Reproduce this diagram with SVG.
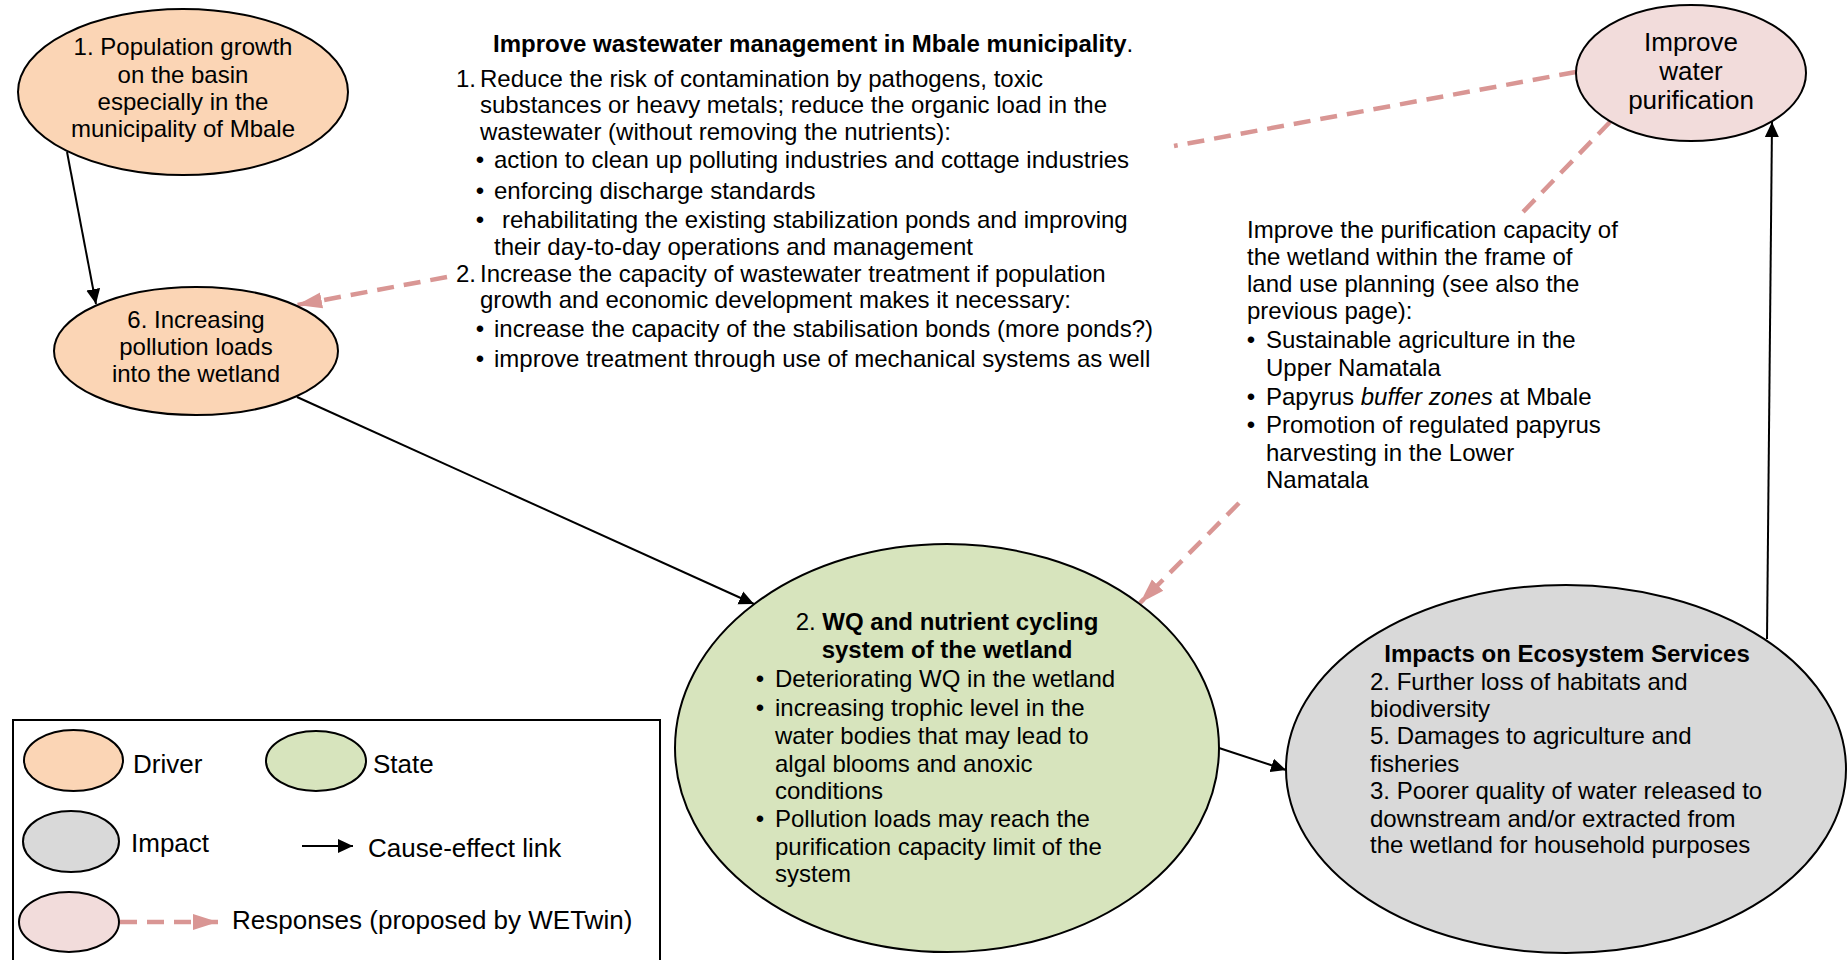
<svg xmlns="http://www.w3.org/2000/svg" width="1847" height="960" viewBox="0 0 1847 960">
<style>
text{font-family:"Liberation Sans",Arial,sans-serif;font-size:24px;fill:#000}
.b{font-weight:bold}
.n{font-weight:normal}
.c{text-anchor:middle}
.l26{font-size:26px}
.node{stroke:#000;stroke-width:2}
.drv{fill:#FBD5B5}
.sta{fill:#D7E4BD}
.imp{fill:#D9D9D9}
.rsp{fill:#F2DCDB}
.link{fill:none;stroke:#000;stroke-width:2}
.resp{fill:none;stroke:#D99694;stroke-width:4.5;stroke-dasharray:17 10}
</style>
<defs>
<marker id="ah" markerUnits="userSpaceOnUse" markerWidth="16" markerHeight="16" viewBox="0 0 16 16" refX="15" refY="8" orient="auto">
<path d="M0,1 L15,8 L0,15 z" fill="#000"/>
</marker>
<marker id="ahp" markerUnits="userSpaceOnUse" markerWidth="26" markerHeight="20" viewBox="0 0 26 20" refX="25" refY="10" orient="auto">
<path d="M0,2 L25,10 L0,18 z" fill="#D99694"/>
</marker>
</defs>
<rect width="1847" height="960" fill="#fff"/>

<g id="connectors">
<path class="link" d="M67,152 L96,304" marker-end="url(#ah)"/>
<path class="link" d="M297,397 L754,604" marker-end="url(#ah)"/>
<path class="link" d="M1219,748 L1286,770" marker-end="url(#ah)"/>
<path class="link" d="M1767,639 L1772,122" marker-end="url(#ah)"/>
<path class="resp" d="M1576,72 L1174,146"/>
<path class="resp" d="M447,277 L297,305" marker-end="url(#ahp)"/>
<path class="resp" d="M1610,122 L1522,213"/>
<path class="resp" d="M1239,503 L1140,603" marker-end="url(#ahp)"/>
</g>

<g id="node-population">
<ellipse class="node drv" cx="183" cy="92" rx="165" ry="83"/>
<text class="c" x="183" y="55">1. Population growth</text>
<text class="c" x="183" y="83">on the basin</text>
<text class="c" x="183" y="110">especially in the</text>
<text class="c" x="183" y="137">municipality of Mbale</text>
</g>

<g id="node-pollution">
<ellipse class="node drv" cx="196" cy="351" rx="142" ry="64"/>
<text class="c" x="196" y="328">6. Increasing</text>
<text class="c" x="196" y="355">pollution loads</text>
<text class="c" x="196" y="382">into the wetland</text>
</g>

<g id="node-purification">
<ellipse class="node rsp" cx="1691" cy="73" rx="115" ry="68"/>
<text class="c l26" x="1691" y="51">Improve</text>
<text class="c l26" x="1691" y="80">water</text>
<text class="c l26" x="1691" y="109">purification</text>
</g>

<g id="node-state">
<ellipse class="node sta" cx="947" cy="748" rx="272" ry="204"/>
<text class="c" x="947" y="630">2. <tspan class="b">WQ and nutrient cycling</tspan></text>
<text class="c b" x="947" y="658">system of the wetland</text>
<text class="c" x="760" y="687">•</text>
<text x="775" y="687">Deteriorating WQ in the wetland</text>
<text class="c" x="760" y="716">•</text>
<text x="775" y="716">increasing trophic level in the</text>
<text x="775" y="744">water bodies that may lead to</text>
<text x="775" y="772">algal blooms and anoxic</text>
<text x="775" y="799">conditions</text>
<text class="c" x="760" y="827">•</text>
<text x="775" y="827">Pollution loads may reach the</text>
<text x="775" y="855">purification capacity limit of the</text>
<text x="775" y="882">system</text>
</g>

<g id="node-impacts">
<ellipse class="node imp" cx="1566" cy="769" rx="280" ry="184"/>
<text class="c b" x="1567" y="662">Impacts on Ecosystem Services</text>
<text x="1370" y="690">2. Further loss of habitats and</text>
<text x="1370" y="717">biodiversity</text>
<text x="1370" y="744">5. Damages to agriculture and</text>
<text x="1370" y="772">fisheries</text>
<text x="1370" y="799">3. Poorer quality of water released to</text>
<text x="1370" y="827">downstream and/or extracted from</text>
<text x="1370" y="853">the wetland for household purposes</text>
</g>

<g id="text-wastewater">
<text class="b" x="493" y="52">Improve wastewater management in Mbale municipality<tspan class="n">.</tspan></text>
<text x="456" y="87">1.</text>
<text x="480" y="87">Reduce the risk of contamination by pathogens, toxic</text>
<text x="480" y="113">substances or heavy metals; reduce the organic load in the</text>
<text x="480" y="140">wastewater (without removing the nutrients):</text>
<text class="c" x="480" y="168">•</text>
<text x="494" y="168">action to clean up polluting industries and cottage industries</text>
<text class="c" x="480" y="199">•</text>
<text x="494" y="199">enforcing discharge standards</text>
<text class="c" x="480" y="228">•</text>
<text x="502" y="228">rehabilitating the existing stabilization ponds and improving</text>
<text x="494" y="255">their day-to-day operations and management</text>
<text x="456" y="282">2.</text>
<text x="480" y="282">Increase the capacity of wastewater treatment if population</text>
<text x="480" y="308">growth and economic development makes it necessary:</text>
<text class="c" x="480" y="337">•</text>
<text x="494" y="337">increase the capacity of the stabilisation bonds (more ponds?)</text>
<text class="c" x="480" y="367">•</text>
<text x="494" y="367">improve treatment through use of mechanical systems as well</text>
</g>

<g id="text-wetland-capacity">
<text x="1247" y="238">Improve the purification capacity of</text>
<text x="1247" y="265">the wetland within the frame of</text>
<text x="1247" y="292">land use planning (see also the</text>
<text x="1247" y="319">previous page):</text>
<text class="c" x="1251" y="348">•</text>
<text x="1266" y="348">Sustainable agriculture in the</text>
<text x="1266" y="376">Upper Namatala</text>
<text class="c" x="1251" y="405">•</text>
<text x="1266" y="405">Papyrus <tspan font-style="italic">buffer zones</tspan> at Mbale</text>
<text class="c" x="1251" y="433">•</text>
<text x="1266" y="433">Promotion of regulated papyrus</text>
<text x="1266" y="461">harvesting in the Lower</text>
<text x="1266" y="488">Namatala</text>
</g>

<g id="legend">
<rect x="13" y="720" width="647" height="250" fill="#fff" stroke="#000" stroke-width="2"/>
<ellipse class="node drv" cx="73.5" cy="760.5" rx="49.5" ry="30.5"/>
<text class="l26" x="133" y="773">Driver</text>
<ellipse class="node sta" cx="316" cy="761" rx="50" ry="30"/>
<text class="l26" x="373" y="773">State</text>
<ellipse class="node imp" cx="71" cy="841.5" rx="48" ry="30.5"/>
<text class="l26" x="131" y="852">Impact</text>
<path class="link" d="M302,846 L353,846" marker-end="url(#ah)"/>
<text class="l26" x="368" y="857">Cause-effect link</text>
<ellipse class="node rsp" cx="69" cy="922" rx="50" ry="30"/>
<path class="resp" d="M120,922 L218,922" stroke-dasharray="14 13" marker-end="url(#ahp)"/>
<text class="l26" x="232" y="929">Responses (proposed by WETwin)</text>
</g>
</svg>
